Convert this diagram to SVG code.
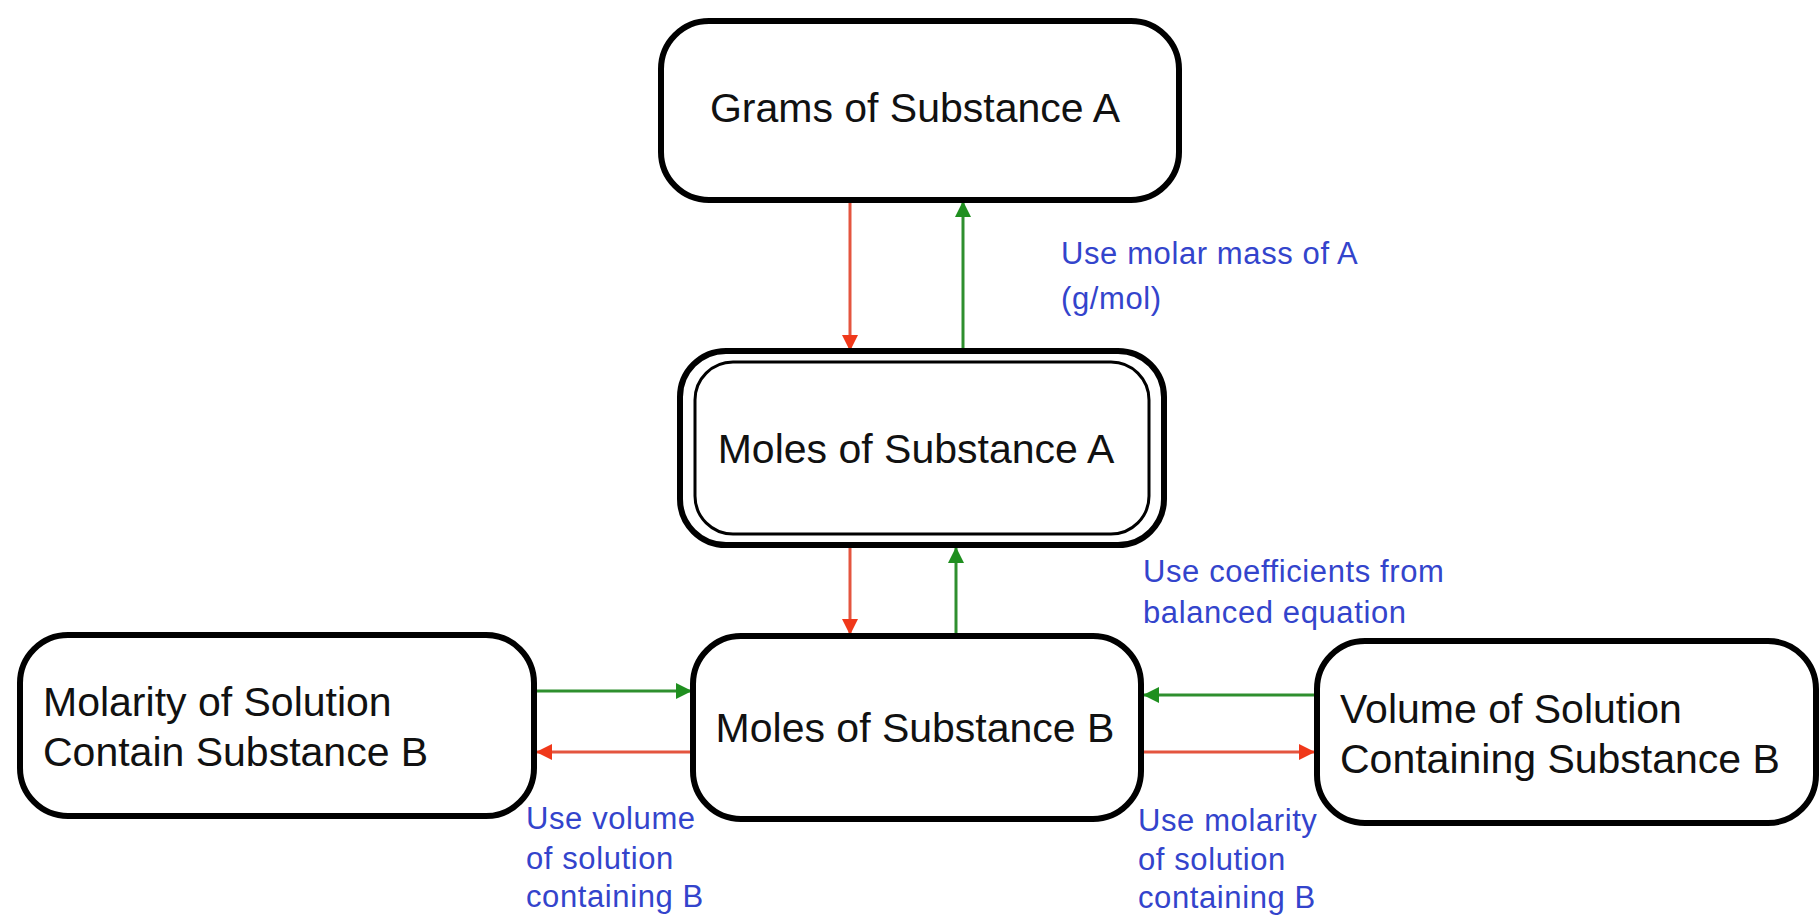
<svg xmlns="http://www.w3.org/2000/svg" width="1819" height="918" viewBox="0 0 1819 918">
<style>
.box{fill:#fff;stroke:#000;stroke-width:6}
.inner{fill:none;stroke:#000;stroke-width:3}
.nt{font-family:"Liberation Sans",Arial,sans-serif;font-size:41px;fill:#111}
.lb{font-family:"Liberation Sans",Arial,sans-serif;font-size:31px;fill:#3344cc;letter-spacing:0.6px}
.red{stroke:#e4553f;stroke-width:3;fill:none}
.green{stroke:#2e8f2e;stroke-width:3;fill:none}
</style>
<defs>
<marker id="ar" markerUnits="userSpaceOnUse" markerWidth="18" markerHeight="16" refX="16" refY="8" orient="auto"><path d="M0,0 L16,8 L0,16 Z" fill="#f0381a"/></marker>
<marker id="ag" markerUnits="userSpaceOnUse" markerWidth="18" markerHeight="16" refX="16" refY="8" orient="auto"><path d="M0,0 L16,8 L0,16 Z" fill="#1f8f1f"/></marker>
</defs>
<rect width="1819" height="918" fill="#fff"/>
<g id="connectors">
<line class="red" x1="850" y1="202" x2="850" y2="351" marker-end="url(#ar)"/>
<line class="green" x1="963" y1="349" x2="963" y2="201" marker-end="url(#ag)"/>
<line class="red" x1="850" y1="547" x2="850" y2="635" marker-end="url(#ar)"/>
<line class="green" x1="956" y1="634" x2="956" y2="547" marker-end="url(#ag)"/>
<line class="green" x1="536" y1="691" x2="692" y2="691" marker-end="url(#ag)"/>
<line class="red" x1="692" y1="752" x2="536" y2="752" marker-end="url(#ar)"/>
<line class="green" x1="1315" y1="695" x2="1143" y2="695" marker-end="url(#ag)"/>
<line class="red" x1="1143" y1="752" x2="1315" y2="752" marker-end="url(#ar)"/>
</g>
<g id="labels">
<text class="lb" x="1061" y="264">Use molar mass of A</text>
<text class="lb" x="1061" y="309">(g/mol)</text>
<text class="lb" x="1143" y="582">Use coefficients from</text>
<text class="lb" x="1143" y="623">balanced equation</text>
<text class="lb" x="526" y="829">Use volume</text>
<text class="lb" x="526" y="869">of solution</text>
<text class="lb" x="526" y="907">containing B</text>
<text class="lb" x="1138" y="831">Use molarity</text>
<text class="lb" x="1138" y="870">of solution</text>
<text class="lb" x="1138" y="908">containing B</text>
</g>
<g id="grams-a">
<rect class="box" x="661" y="21" width="518" height="179" rx="48" ry="48"/>
<text class="nt" x="915" y="122" text-anchor="middle">Grams of Substance A</text>
</g>
<g id="moles-a">
<rect class="box" x="680" y="351" width="484" height="194" rx="46" ry="46"/>
<rect class="inner" x="695" y="362" width="454" height="172" rx="38" ry="38"/>
<text class="nt" x="916" y="463" text-anchor="middle">Moles of Substance A</text>
</g>
<g id="moles-b">
<rect class="box" x="693" y="636" width="448" height="183" rx="48" ry="48"/>
<text class="nt" x="915" y="742" text-anchor="middle">Moles of Substance B</text>
</g>
<g id="molarity-b">
<rect class="box" x="20" y="635" width="514" height="181" rx="48" ry="48"/>
<text class="nt" x="43" y="716">Molarity of Solution</text>
<text class="nt" x="43" y="766">Contain Substance B</text>
</g>
<g id="volume-b">
<rect class="box" x="1317" y="641" width="499" height="182" rx="48" ry="48"/>
<text class="nt" x="1340" y="723">Volume of Solution</text>
<text class="nt" x="1340" y="773">Containing Substance B</text>
</g>
</svg>
